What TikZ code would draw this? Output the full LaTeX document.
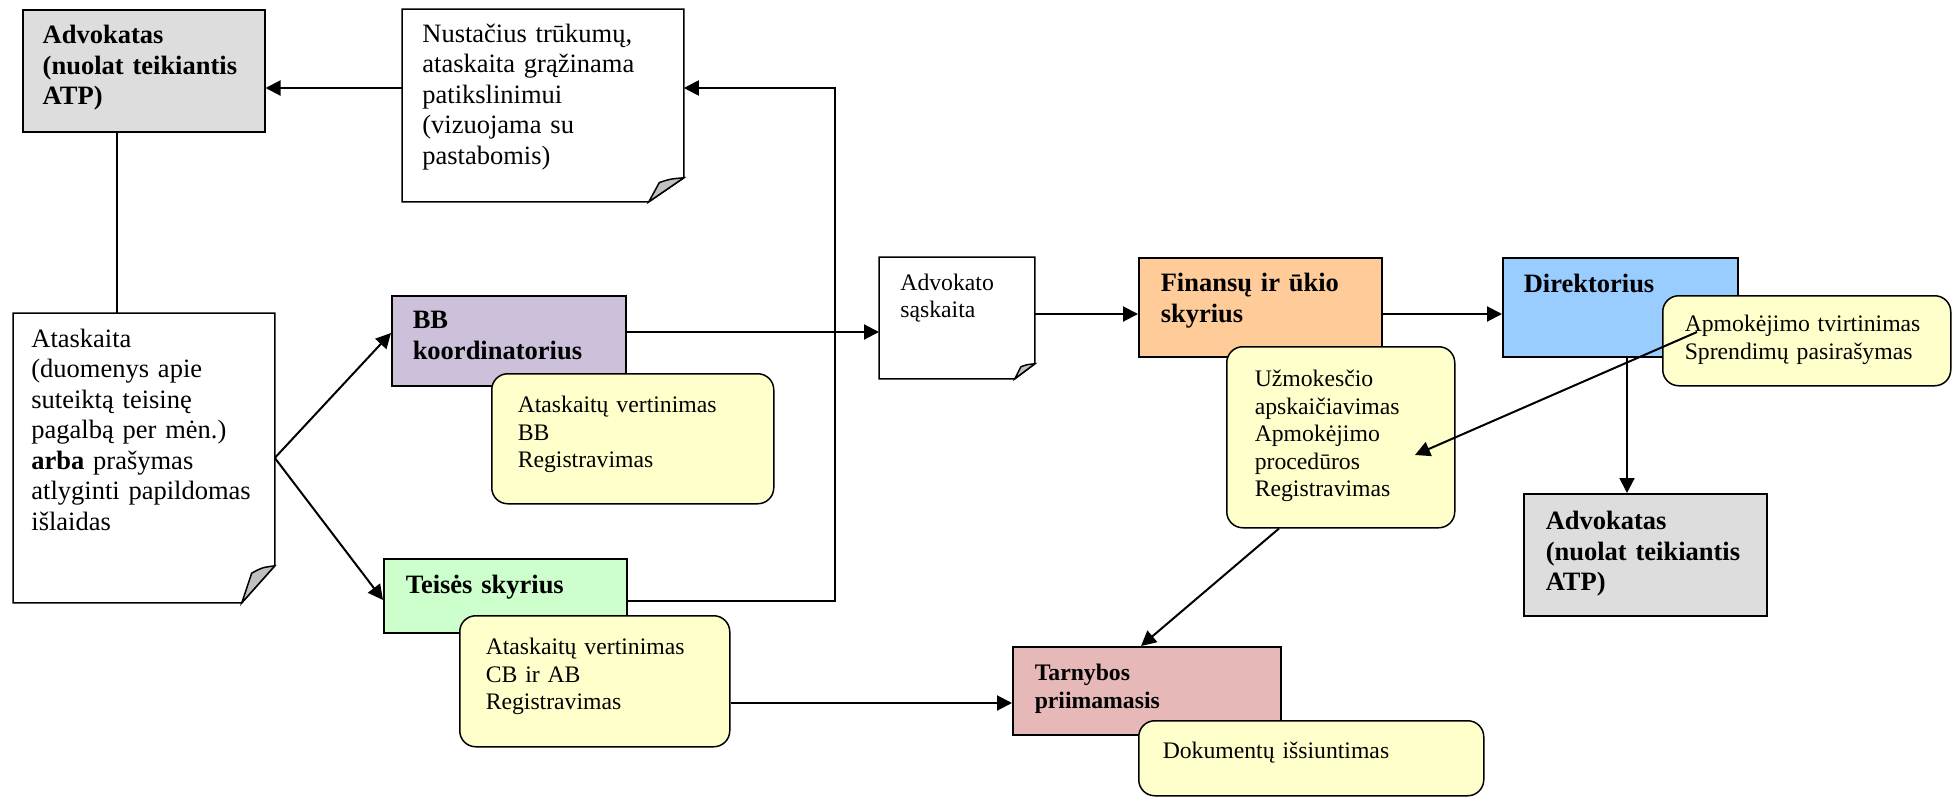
\documentclass[tikz,border=0pt]{standalone}
\usepackage{fontspec}
\setmainfont{Liberation Serif}
\usepackage{tikz}
\usetikzlibrary{arrows.meta,calc}

\definecolor{advgray}{HTML}{DDDDDD}
\definecolor{bbpurple}{HTML}{CCC0DA}
\definecolor{teisgreen}{HTML}{CCFFCC}
\definecolor{tarnpink}{HTML}{E6B9B8}
\definecolor{finpeach}{HTML}{FFCC99}
\definecolor{dirblue}{HTML}{99CCFF}
\definecolor{noteyellow}{HTML}{FFFFCC}
\definecolor{foldgray}{HTML}{C0C0C0}

\begin{document}
\begin{tikzpicture}[ x={(0.5pt,0pt)}, y={(0pt,-0.5pt)},
  doc/.style={anchor=north west, inner ysep=0pt, align=left},
  box/.style={doc, draw, line width=0.75pt},
  note/.style={box, fill=noteyellow, rounded corners=8pt},
  big/.style={font=\fontsize{13.25pt}{15.25pt}\selectfont},
  bigb/.style={font=\fontsize{13.25pt}{15.25pt}\selectfont\bfseries},
  small/.style={font=\fontsize{11.85pt}{13.75pt}\selectfont},
  smallb/.style={font=\fontsize{11.85pt}{13.75pt}\selectfont\bfseries},
  arr/.style={line width=1pt, -{Triangle[length=7.5pt,width=7.5pt]}},
  link/.style={line width=1pt} ]

\path[use as bounding box, fill=white] (0,0) rectangle (1955,798);

%Boxes
\node[box, bigb, fill=advgray, inner xsep=10pt, text width=101pt, text height=17pt, text depth=44pt]
  (adv1) at (22,9) {Advokatas\\(nuolat teikiantis\\ATP)};
\node[doc, big, inner xsep=10pt, text width=120.5pt, text height=16.5pt, text depth=79.5pt]
  (nust) at (402,9) {Nustačius trūkumų,\\ataskaita grąžinama\\patikslinimui\\(vizuojama su\\pastabomis)};
\node[doc, big, inner xsep=9pt, text width=112.5pt, text height=17pt, text depth=127.5pt]
  (atask) at (13,313) {Ataskaita\\(duomenys apie\\suteiktą teisinę\\pagalbą per mėn.)\\\textbf{arba} prašymas\\atlyginti papildomas\\išlaidas};
\node[box, bigb, fill=bbpurple, inner xsep=10.5pt, text width=96pt, text height=16.5pt, text depth=28.5pt]
  (bb) at (391,295) {BB\\koordinatorius};
\node[box, bigb, fill=teisgreen, inner xsep=11pt, text width=99.5pt, text height=17.5pt, text depth=19.5pt]
  (teises) at (383,558) {Teisės skyrius};
\node[doc, small, inner xsep=10.5pt, text width=56.5pt, text height=16.5pt, text depth=44pt]
  (advsas) at (879,257) {Advokato\\sąskaita};
\node[box, bigb, fill=finpeach, inner xsep=11pt, text width=99.5pt, text height=17pt, text depth=32.5pt]
  (fin) at (1138,257) {Finansų ir ūkio\\skyrius};
\node[box, bigb, fill=dirblue, inner xsep=10.5pt, text width=96.5pt, text height=17.5pt, text depth=32pt]
  (dir) at (1502,257) {Direktorius};
\node[box, bigb, fill=advgray, inner xsep=11pt, text width=99.5pt, text height=18pt, text depth=43pt]
  (adv2) at (1523,493) {Advokatas\\(nuolat teikiantis\\ATP)};
\node[box, smallb, fill=tarnpink, inner xsep=11pt, text width=112pt, text height=17pt, text depth=27pt]
  (tarn) at (1012,646) {Tarnybos\\priimamasis};

%Notes
\node[note, small, inner xsep=13pt, text width=115pt, text height=19.5pt, text depth=45.5pt]
  (ybb) at (491,373) {Ataskaitų vertinimas\\BB\\Registravimas};
\node[note, small, inner xsep=13pt, text width=109pt, text height=19.5pt, text depth=46pt]
  (yteis) at (459,615) {Ataskaitų vertinimas\\CB ir AB\\Registravimas};
\node[note, small, inner xsep=14pt, text width=86pt, text height=20pt, text depth=70.5pt]
  (uzm) at (1226,346) {Užmokesčio\\apskaičiavimas\\Apmokėjimo\\procedūros\\Registravimas};
\node[note, small, inner xsep=11pt, text width=122pt, text height=18pt, text depth=27pt]
  (apm) at (1662,295) {Apmokėjimo tvirtinimas\\Sprendimų pasirašymas};
\node[note, small, inner xsep=12pt, text width=148.5pt, text height=19pt, text depth=18.5pt]
  (dok) at (1138,720) {Dokumentų išsiuntimas};

%Folded corners
\foreach \d/\fw/\fh in {nust/35/24, atask/33/37, advsas/20/15} {
  \draw[line width=0.75pt] (\d.north west) -- (\d.north east) -- ($(\d.south east)+(0,-\fh)$)
    -- ($(\d.south east)+(-\fw,0)$) -- (\d.south west) -- cycle;
  \filldraw[fill=foldgray, line width=0.75pt] ($(\d.south east)+(-\fw,0)$)
    .. controls ($(\d.south east)+(-0.85*\fw,-0.4*\fh)$) .. ($(\d.south east)+(-0.7*\fw,-0.8*\fh)$)
    .. controls ($(\d.south east)+(-0.4*\fw,-0.95*\fh)$) .. ($(\d.south east)+(0,-\fh)$) -- cycle;
}

%Connectors
\draw[arr] ($(nust.north west)+(0,79)$) -- ($(adv1.north east)+(0,79)$);
\draw[arr] ($(teises.north east)+(0,43)$) -| ($(nust.north east)+(151,79)$) -- ($(nust.north east)+(0,79)$);
\draw[link] ($(adv1.south west)+(95,0)$) -- ($(atask.north west)+(104,0)$);
\draw[arr] (atask.east) -- ($(bb.north west)+(0,38)$);
\draw[arr] (atask.east) -- ($(teises.north west)+(0,42)$);
\draw[arr] ($(bb.north east)+(0,37)$) -- ($(advsas.north west)+(0,75)$);
\draw[arr] ($(advsas.north east)+(0,57)$) -- ($(fin.north west)+(0,57)$);
\draw[arr] ($(fin.north east)+(0,57)$) -- ($(dir.north west)+(0,57)$);
\draw[arr] ($(dir.south west)+(125,0)$) -- ($(adv2.north west)+(104,0)$);
\draw[arr] ($(uzm.south west)+(53,0)$) -- ($(tarn.north west)+(129,0)$);
\draw[arr] ($(yteis.north east)+(0,88)$) -- ($(tarn.north west)+(0,57)$);
\draw[arr] ($(apm.north west)+(35,37)$) -- ($(uzm.north west)+(189,109)$);

\end{tikzpicture}
\end{document}
